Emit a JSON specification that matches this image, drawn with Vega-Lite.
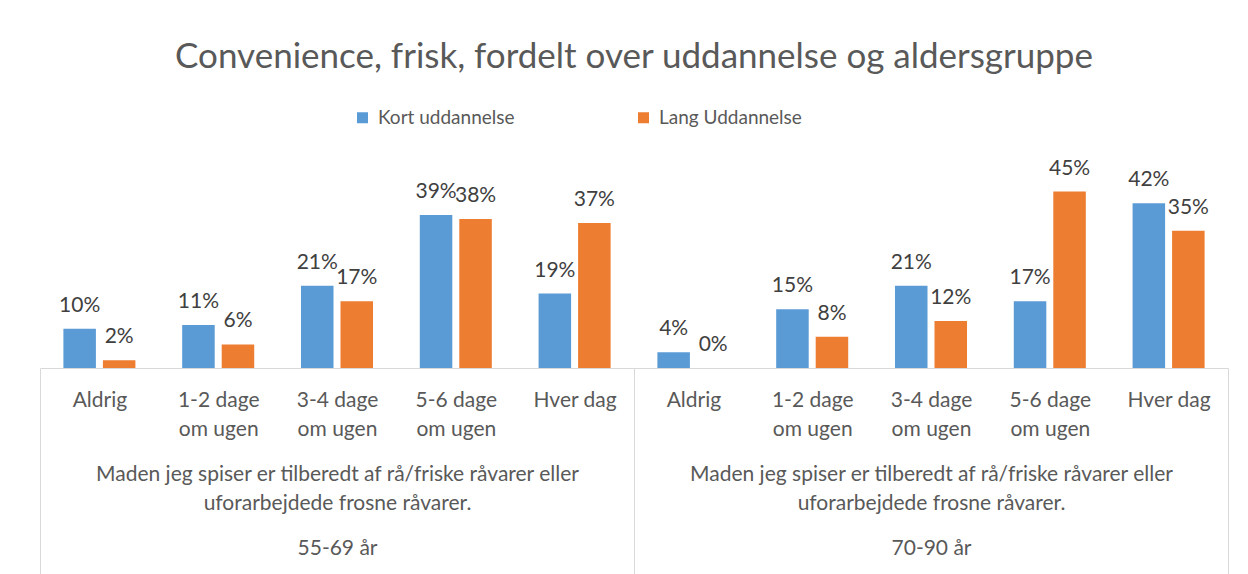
{
  "$schema": "https://vega.github.io/schema/vega-lite/v6.json",
  "padding": {"left": 39, "right": 21, "top": 40, "bottom": 0},
  "background": "white",
  "title": {
    "text": "Convenience, frisk, fordelt over uddannelse og aldersgruppe",
    "fontSize": 35, "font": "Lato", "fontWeight": "normal", "color": "#595959",
    "anchor": "middle", "offset": 33
  },
  "width": 1188,
  "height": 196,
  "data": {"values": [
    {"slot": "55-69 år#Aldrig", "serie": "Kort uddannelse", "value": 0.10},
    {"slot": "55-69 år#Aldrig", "serie": "Lang Uddannelse", "value": 0.02},
    {"slot": "55-69 år#1-2 dage|om ugen", "serie": "Kort uddannelse", "value": 0.11},
    {"slot": "55-69 år#1-2 dage|om ugen", "serie": "Lang Uddannelse", "value": 0.06},
    {"slot": "55-69 år#3-4 dage|om ugen", "serie": "Kort uddannelse", "value": 0.21},
    {"slot": "55-69 år#3-4 dage|om ugen", "serie": "Lang Uddannelse", "value": 0.17},
    {"slot": "55-69 år#5-6 dage|om ugen", "serie": "Kort uddannelse", "value": 0.39},
    {"slot": "55-69 år#5-6 dage|om ugen", "serie": "Lang Uddannelse", "value": 0.38},
    {"slot": "55-69 år#Hver dag", "serie": "Kort uddannelse", "value": 0.19},
    {"slot": "55-69 år#Hver dag", "serie": "Lang Uddannelse", "value": 0.37},
    {"slot": "70-90 år#Aldrig", "serie": "Kort uddannelse", "value": 0.04},
    {"slot": "70-90 år#Aldrig", "serie": "Lang Uddannelse", "value": 0.0},
    {"slot": "70-90 år#1-2 dage|om ugen", "serie": "Kort uddannelse", "value": 0.15},
    {"slot": "70-90 år#1-2 dage|om ugen", "serie": "Lang Uddannelse", "value": 0.08},
    {"slot": "70-90 år#3-4 dage|om ugen", "serie": "Kort uddannelse", "value": 0.21},
    {"slot": "70-90 år#3-4 dage|om ugen", "serie": "Lang Uddannelse", "value": 0.12},
    {"slot": "70-90 år#5-6 dage|om ugen", "serie": "Kort uddannelse", "value": 0.17},
    {"slot": "70-90 år#5-6 dage|om ugen", "serie": "Lang Uddannelse", "value": 0.45},
    {"slot": "70-90 år#Hver dag", "serie": "Kort uddannelse", "value": 0.42},
    {"slot": "70-90 år#Hver dag", "serie": "Lang Uddannelse", "value": 0.35}
  ]},
  "encoding": {
    "x": {"field": "slot", "type": "nominal", "sort": null,
      "scale": {"paddingInner": 0, "paddingOuter": 0},
      "axis": {
        "orient": "bottom", "title": null,
        "labelExpr": "!datum.label ? '' : indexof(datum.label, '3-4') >= 0 ? [split(split(datum.label, '#')[1], '|')[0], '\u200b', split(split(datum.label, '#')[1], '|')[1], '\u200b', '\u200b', 'Maden jeg spiser er tilberedt af rå/friske råvarer eller', '\u200b', 'uforarbejdede frosne råvarer.', '\u200b', '\u200b', split(datum.label, '#')[0]] : indexof(datum.label, '|') >= 0 ? [split(split(datum.label, '#')[1], '|')[0], '\u200b', split(split(datum.label, '#')[1], '|')[1]] : split(datum.label, '#')[1]",
        "labelAngle": 0, "labelAlign": "center", "labelBaseline": "alphabetic", "labelOverlap": false, "labelLimit": 0,
        "labelFontSize": 21, "labelColor": "#595959", "labelFont": "Lato", "labelLineHeight": 14.8, "labelPadding": -168,
        "tickBand": "extent", "tickSize": 206, "tickColor": "#d9d9d9", "tickWidth": 1,
        "tickOpacity": {"condition": {"test": "datum.extra || datum.index < 0 || !isValid(datum.value) || indexof(datum.value + '', 'Hver dag') >= 0", "value": 1}, "value": 0},
        "domainColor": "#d9d9d9"
      }},
    "xOffset": {"field": "serie", "type": "nominal", "scale": {"paddingInner": 0.177, "paddingOuter": 0.592}},
    "y": {"field": "value", "type": "quantitative", "scale": {"domain": [0, 0.5]}, "axis": null}
  },
  "layer": [
    {
      "mark": {"type": "bar"},
      "encoding": {
        "color": {"field": "serie", "type": "nominal",
          "scale": {"domain": ["Kort uddannelse", "Lang Uddannelse"], "range": ["#5B9BD5", "#ED7D31"]},
          "legend": {"title": null, "orient": "none", "legendX": 313, "legendY": -64, "direction": "horizontal",
            "symbolType": "square", "symbolSize": 121, "symbolStrokeWidth": 0,
            "labelFontSize": 19, "labelFont": "Lato", "labelColor": "#595959", "columnPadding": 119, "labelOffset": 6}}
      }
    },
    {
      "mark": {"type": "text", "baseline": "alphabetic", "dy": -17, "fontSize": 21, "font": "Lato", "color": "#404040"},
      "encoding": {
        "text": {"field": "value", "type": "quantitative", "format": ".0%"}
      }
    }
  ],
  "config": {"view": {"stroke": null}, "font": "Lato"}
}
